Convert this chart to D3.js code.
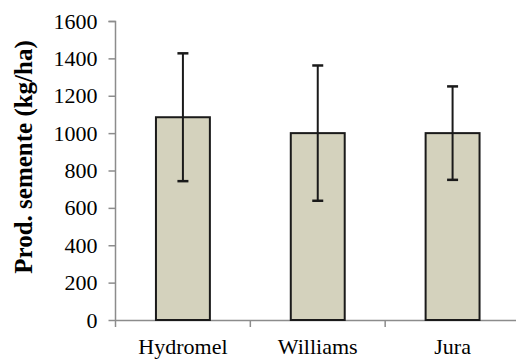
<!DOCTYPE html>
<html>
<head>
<meta charset="utf-8">
<script src="https://cdn.jsdelivr.net/npm/d3@7"></script>
</head>
<body style="margin:0; background:#fff">
<svg width="516" height="360"></svg>
<script>
var categories = ["Hydromel", "Williams", "Jura"];
var means = [1085, 1000, 1000];
var errors = [342, 362, 250];
var yTicks = [0, 200, 400, 600, 800, 1000, 1200, 1400, 1600];

var serif = "'Liberation Serif', 'Times New Roman', serif";

var svg = d3.select("svg"),
    margin = {top: 21, right: -4, bottom: 40, left: 115.5},
    width = +svg.attr("width") - margin.left - margin.right,
    height = +svg.attr("height") - margin.top - margin.bottom,
    g = svg.append("g").attr("transform", "translate(" + margin.left + "," + margin.top + ")");

var data = categories.map(function(c, i) {
    return {name: c, value: means[i], err: errors[i]};
});

var x = d3.scaleBand()
    .domain(categories)
    .range([0, width]);

var y = d3.scaleLinear()
    .domain([0, 1600])
    .range([height, 0]);

// y axis
var yAxis = g.append("g")
    .call(d3.axisLeft(y).tickValues(yTicks).tickSize(7).tickPadding(11).tickFormat(d3.format("d")));
yAxis.select(".domain").attr("stroke", "#8c8c8c").attr("stroke-width", 1.5)
    .attr("d", "M-7,0.5H0V" + height);
yAxis.selectAll(".tick line").attr("stroke", "#8c8c8c").attr("stroke-width", 1.5);
yAxis.selectAll(".tick text")
    .style("font-family", serif).style("font-size", "22px").attr("fill", "#000");

// x axis
var xAxis = g.append("g")
    .attr("transform", "translate(0," + height + ")")
    .call(d3.axisBottom(x).tickSize(0));
xAxis.select(".domain").attr("stroke", "#8c8c8c").attr("stroke-width", 1.5);
xAxis.selectAll(".tick text")
    .style("font-family", serif).style("font-size", "22px").attr("fill", "#000")
    .attr("y", 34).attr("dy", 0);

// category separator ticks
g.append("g").selectAll("line")
    .data(categories)
    .enter().append("line")
    .attr("x1", function(d) { return x(d); })
    .attr("x2", function(d) { return x(d); })
    .attr("y1", height)
    .attr("y2", height + 7)
    .attr("stroke", "#8c8c8c")
    .attr("stroke-width", 1.5);

var barW = x.bandwidth() * 0.4;

g.selectAll(".bar")
    .data(data)
    .enter().append("rect")
    .attr("class", "bar")
    .attr("x", function(d) { return x(d.name) + x.bandwidth() / 2 - barW / 2; })
    .attr("y", function(d) { return y(d.value); })
    .attr("width", barW)
    .attr("height", function(d) { return height - y(d.value); })
    .attr("fill", "#d4d2bd")
    .attr("stroke", "#1a1a1a")
    .attr("stroke-width", 2);

// error bars
var eb = g.selectAll(".err")
    .data(data)
    .enter().append("g")
    .attr("class", "err")
    .attr("stroke", "#1a1a1a")
    .attr("stroke-width", 2);

eb.append("line")
    .attr("x1", function(d) { return x(d.name) + x.bandwidth() / 2; })
    .attr("x2", function(d) { return x(d.name) + x.bandwidth() / 2; })
    .attr("y1", function(d) { return y(d.value + d.err); })
    .attr("y2", function(d) { return y(d.value - d.err); });

[1, -1].forEach(function(s) {
    eb.append("line")
        .attr("x1", function(d) { return x(d.name) + x.bandwidth() / 2 - 5.5; })
        .attr("x2", function(d) { return x(d.name) + x.bandwidth() / 2 + 5.5; })
        .attr("y1", function(d) { return y(d.value + s * d.err); })
        .attr("y2", function(d) { return y(d.value + s * d.err); })
        .attr("stroke-width", 2.5);
});

// y title
svg.append("text")
    .attr("transform", "translate(32,157) rotate(-90)")
    .attr("text-anchor", "middle")
    .style("font-family", serif)
    .style("font-size", "25px")
    .style("font-weight", "bold")
    .text("Prod. semente (kg/ha)");
</script>
</body>
</html>
